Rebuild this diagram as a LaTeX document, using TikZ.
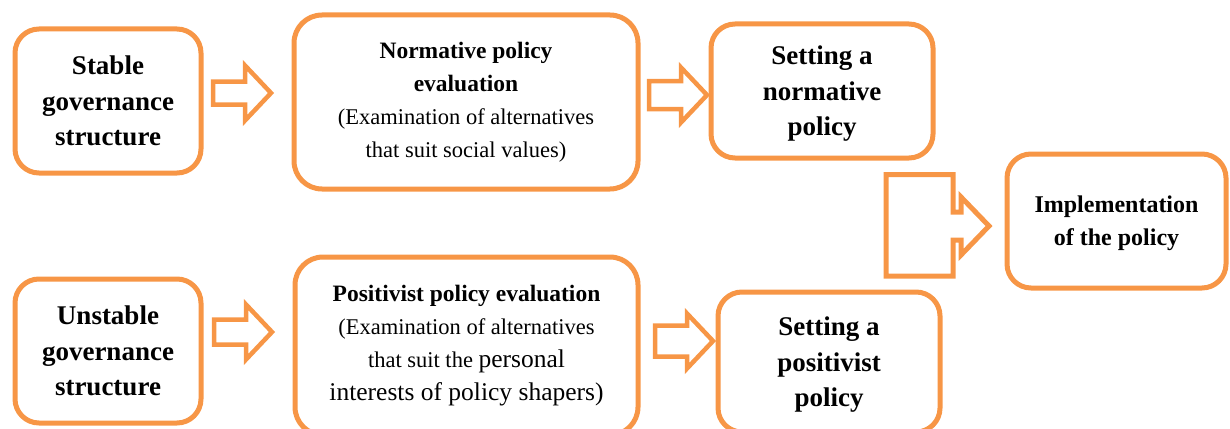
\documentclass[tikz,border=0pt]{standalone}
\usepackage{fontspec}
\setmainfont{Liberation Serif}
\usetikzlibrary{calc}

\definecolor{palO}{HTML}{F79646}

% bold heading line inside the evaluation boxes
\newcommand{\evalhead}[1]{{\fontsize{23.5}{33}\selectfont\bfseries #1}}
% outlined block arrow: tip coordinate, half height of the shaft
\newcommand{\fatarrow}[2]{%
  \draw[fat] ($(#1)+(-58,-#2)$) -- ($(#1)+(-26,-#2)$) -- ($(#1)+(-26,-27.5)$)
    -- (#1) -- ($(#1)+(-26,27.5)$) -- ($(#1)+(-26,#2)$) -- ($(#1)+(-58,#2)$)
    -- cycle;}

\begin{document}
\begin{tikzpicture}[
    x=1pt, y=-1pt,
    block/.style={draw=palO, line width=5pt, rounded corners=24pt,
                  fill=white, align=center, inner sep=0pt},
    big/.style={font=\fontsize{27}{35.5}\selectfont\bfseries},
    small/.style={font=\fontsize{22.5}{33}\selectfont, rounded corners=28pt},
    fat/.style={draw=palO, line width=4.5pt},
]
\useasboundingbox (0,0) rectangle (1230,428);
\clip (0,0) rectangle (1230,428);

% --- Stable branch (top) ---
\node[block, big, minimum width=186pt, minimum height=144pt]
    (stable) at (108,101) {Stable\\governance\\structure};
\node[block, small, minimum width=344pt, minimum height=174pt]
    (normeval) at (466,102)
    {\evalhead{Normative policy}\\\evalhead{evaluation}\\
     (Examination of alternatives\\that suit social values)};
\node[block, big, text depth=0pt, minimum width=222pt, minimum height=134pt]
    (normset) at (822,91) {Setting a\\normative\\policy};

% --- Unstable branch (bottom) ---
\node[block, big, minimum width=186pt, minimum height=144pt]
    (unstable) at (108,351) {Unstable\\governance\\structure};
\node[block, small, minimum width=343pt, minimum height=178pt]
    (poseval) at (466.5,346)
    {\evalhead{Positivist policy evaluation}\\
     (Examination of alternatives\\
     that suit the {\fontsize{25.5}{33}\selectfont personal}\\
     {\fontsize{25.5}{35}\selectfont interests of policy shapers)}};
\node[block, big, text depth=0pt, minimum width=222pt, minimum height=140pt]
    (posset) at (829,362) {Setting a\\positivist\\policy};

% --- Outcome ---
\node[block, font=\fontsize{24}{33}\selectfont\bfseries, text depth=0pt,
      minimum width=219pt, minimum height=134pt]
    (implement) at (1116.5,221) {Implementation\\of the policy};

% block arrows between the stages
\coordinate (tipA) at (271,93);
\coordinate (tipB) at (707,95);
\coordinate (tipC) at (272,332);
\coordinate (tipD) at (713,341);
\fatarrow{tipA}{11.5}
\fatarrow{tipB}{14}
\fatarrow{tipC}{12.5}
\fatarrow{tipD}{15.5}

% bracket arrow joining both policies
\coordinate (tipE) at (989,226);
\draw[fat, line width=5pt] (886,174.5) -- (953,174.5) -- (953,212)
    -- (961,212) -- (961,197) -- (tipE) -- (961,255) -- (961,240)
    -- (953,240) -- (953,276) -- (886,276) -- cycle;

\end{tikzpicture}
\end{document}
